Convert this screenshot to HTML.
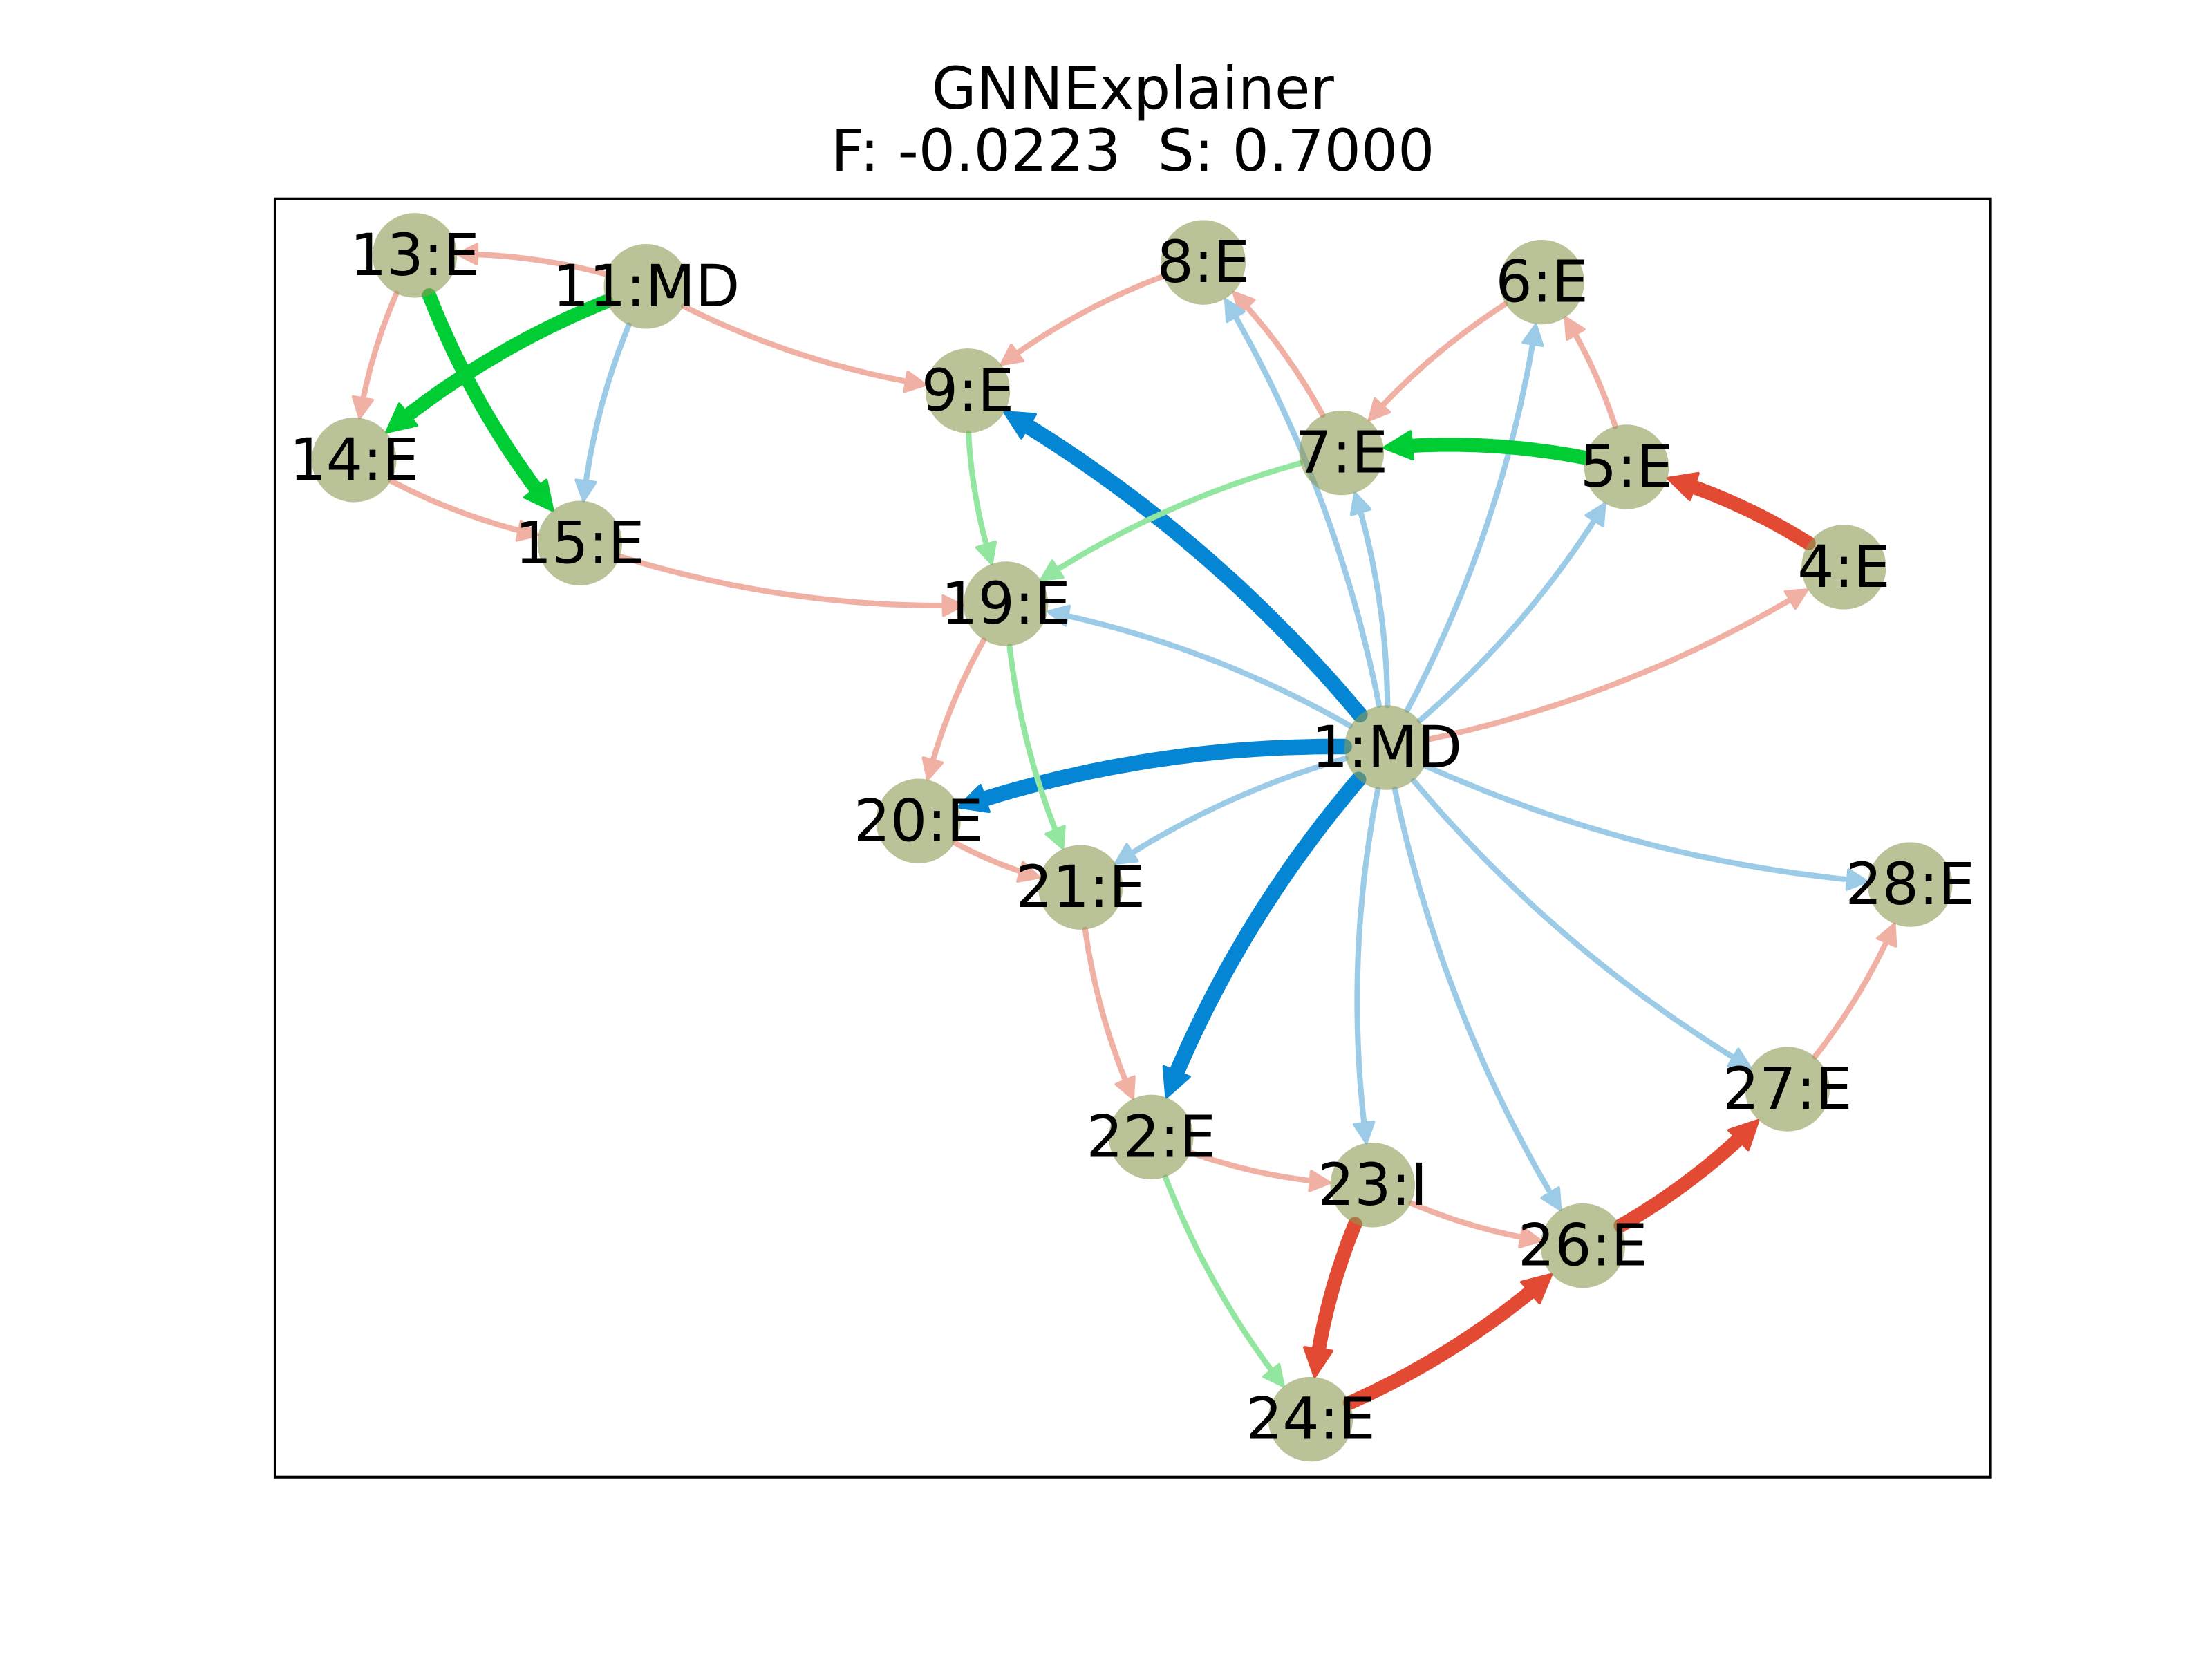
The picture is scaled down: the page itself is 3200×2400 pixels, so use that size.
<!DOCTYPE html>
<html><head><meta charset="utf-8"><style>
html,body{margin:0;padding:0;background:#fff;}
svg{display:block;}
text{font-family:"DejaVu Sans","Liberation Sans",sans-serif;}
</style></head><body>
<svg id="chart" width="3200" height="2400" viewBox="0 0 1568 1176" xmlns="http://www.w3.org/2000/svg">
<rect width="1568" height="1176" fill="#fff"/>
<text x="803" y="77" font-size="41" text-anchor="middle">GNNExplainer</text>
<text x="803" y="121" font-size="41" text-anchor="middle" xml:space="preserve">F: -0.0223  S: 0.7000</text>
<rect x="195" y="141" width="1216" height="906" fill="none" stroke="#000" stroke-width="2"/>
<g id="edges"></g><g id="nodes"></g>
</svg>
<script>
const nodeNames=["1:MD","4:E","5:E","6:E","7:E","8:E","9:E","11:MD","13:E","14:E","15:E","19:E","20:E","21:E","22:E","23:I","24:E","26:E","27:E","28:E"];
const nodeX=[983,1307,1153,1093,951,853,686,458,294,251,411,713,651,766,816,973,929,1122,1267,1354];
const nodeY=[530,402,331,200,321,186,277,203,181,326,385,428,582,629,806,840,1006,883,772,627];
const edgeSrc=["11:MD","13:E","14:E","15:E","11:MD","8:E","7:E","6:E","5:E","1:MD","19:E","20:E","21:E","22:E","23:I","27:E",
"11:MD","1:MD","1:MD","1:MD","1:MD","1:MD","1:MD","1:MD","1:MD","1:MD","1:MD",
"1:MD","1:MD","1:MD",
"7:E","9:E","19:E","22:E",
"13:E","11:MD","5:E",
"4:E","23:I","24:E","26:E"];
const edgeDst=["13:E","14:E","15:E","19:E","9:E","9:E","8:E","7:E","6:E","4:E","20:E","21:E","22:E","23:I","26:E","28:E",
"15:E","8:E","7:E","6:E","5:E","19:E","21:E","23:I","26:E","27:E","28:E",
"9:E","20:E","22:E",
"19:E","19:E","21:E","24:E",
"15:E","14:E","7:E",
"5:E","24:E","26:E","27:E"];
const edgeKind=["rl","rl","rl","rl","rl","rl","rl","rl","rl","rl","rl","rl","rl","rl","rl","rl",
"bl","bl","bl","bl","bl","bl","bl","bl","bl","bl","bl",
"bb","bb","bb",
"gl","gl","gl","gl",
"gb","gb","gb",
"rb","rb","rb","rb"];
const styles={rl:["#f0b0a4",4,10],bl:["#9ccbe8",4,10],gl:["#93e6a0",4,10],bb:["#0586d4",11,14],gb:["#00cc33",10,14],rb:["#e24a33",10,14]};
const NS="http://www.w3.org/2000/svg";
const eg=document.getElementById('edges'),ng=document.getElementById('nodes');
const R=30,rad=0.1;
function q(p0,c,p1,t){return [(1-t)*(1-t)*p0[0]+2*(1-t)*t*c[0]+t*t*p1[0],(1-t)*(1-t)*p0[1]+2*(1-t)*t*c[1]+t*t*p1[1]];}
function findT(p0,c,p1,center,fromEnd){
  let t=fromEnd?1:0;const step=0.002;
  while(t>=0&&t<=1){const p=q(p0,c,p1,t);if(Math.hypot(p[0]-center[0],p[1]-center[1])>=R)return t;t+=fromEnd?-step:step;}
  return fromEnd?0.9:0.1;}
for(let i=0;i<edgeSrc.length;i++){
  const a=nodeNames.indexOf(edgeSrc[i]),b=nodeNames.indexOf(edgeDst[i]);
  const p0=[nodeX[a],nodeY[a]],p1=[nodeX[b],nodeY[b]];
  const dx=p1[0]-p0[0],dy=p1[1]-p0[1];
  const c=[(p0[0]+p1[0])/2-rad*dy,(p0[1]+p1[1])/2+rad*dx];
  const st=styles[edgeKind[i]];
  const t0=findT(p0,c,p1,p0,false),t1=findT(p0,c,p1,p1,true);
  const e=q(p0,c,p1,t1);
  const ep=q(p0,c,p1,t1-0.01);
  let ux=e[0]-ep[0],uy=e[1]-ep[1];const L=Math.hypot(ux,uy)||1;ux/=L;uy/=L;
  const hl=st[2]*1.4,hw=st[2]*0.7;
  const base=[e[0]-ux*hl,e[1]-uy*hl];
  const pts=[];
  const N=40;
  for(let k=0;k<=N;k++){const t=t0+(t1-t0)*k/N;const p=q(p0,c,p1,t);
    if(Math.hypot(p[0]-e[0],p[1]-e[1])<hl*0.8&&k>0)break;pts.push(p);}
  const path=document.createElementNS(NS,'polyline');
  path.setAttribute('points',pts.map(p=>p[0].toFixed(1)+','+p[1].toFixed(1)).join(' '));
  path.setAttribute('fill','none');path.setAttribute('stroke',st[0]);path.setAttribute('stroke-width',st[1]);path.setAttribute('stroke-linecap','round');
  
  
  eg.appendChild(path);
  const head=document.createElementNS(NS,'polygon');
  head.setAttribute('points',[e,[base[0]-uy*hw,base[1]+ux*hw],[base[0]+uy*hw,base[1]-ux*hw]].map(p=>p[0].toFixed(1)+','+p[1].toFixed(1)).join(' '));
  head.setAttribute('fill',st[0]);head.setAttribute('stroke',st[0]);head.setAttribute('stroke-width',2);head.setAttribute('stroke-linejoin','round');
  
  
  eg.appendChild(head);
}
for(let i=0;i<nodeNames.length;i++){
  const g=document.createElementNS(NS,'g');
  
  
  const cc=document.createElementNS(NS,'circle');
  cc.setAttribute('cx',nodeX[i]);cc.setAttribute('cy',nodeY[i]);cc.setAttribute('r',R);
  cc.setAttribute('fill','#8c9a52');cc.setAttribute('fill-opacity','0.6');
  
  
  g.appendChild(cc);
  const t=document.createElementNS(NS,'text');
  t.setAttribute('x',nodeX[i]);t.setAttribute('y',nodeY[i]+14);t.setAttribute('font-size','41');t.setAttribute('text-anchor','middle');
  t.textContent=nodeNames[i];
  
  
  g.appendChild(t);
  ng.appendChild(g);
}
</script>
</body></html>
